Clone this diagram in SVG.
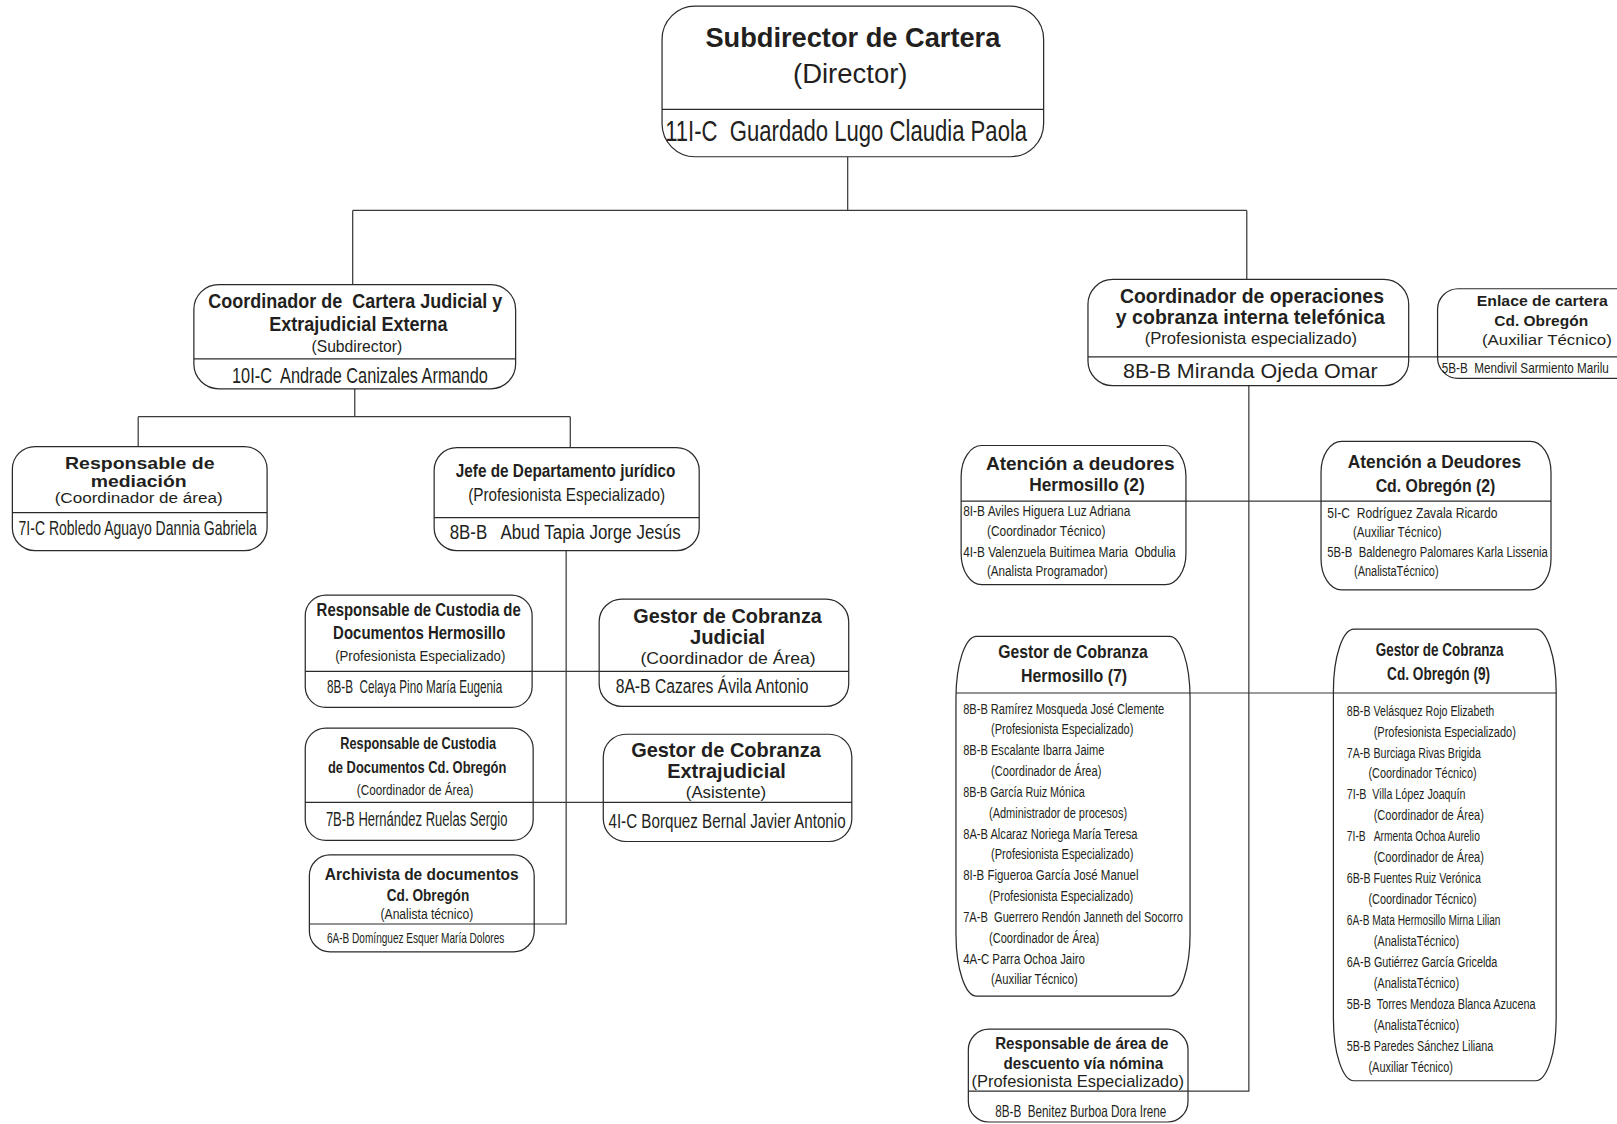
<svg xmlns="http://www.w3.org/2000/svg" width="1617" height="1124" viewBox="0 0 1617 1124">
<style>
.bx{fill:#fff;stroke:#2a2a2a;stroke-width:1.2}
.dv{stroke:#2a2a2a;stroke-width:1.2}
.cn{stroke:#3a3a3a;stroke-width:1.2;fill:none}
text{font-family:"Liberation Sans",Arial,sans-serif;fill:#231f20;white-space:pre}
.b{font-weight:bold}
</style>
<rect width="1617" height="1124" fill="#fff"/>
<g transform="scale(1.03125)">
<g id="connectors" class="cn">
<path d="M822 152V204M342 204H1209M342 204V276M1209 204V271"/>
<path d="M344 377V404M134 404H553M134 404V433M553 404V434"/>
<path d="M549 534V896H517M515 651H581M516 778H585"/>
<path d="M1211 374V1058H1152M1150 486H1281M1154 672H1293M1366 346H1394"/>
</g>
<g id="n-director">
<rect class="bx" x="642" y="6" width="370" height="146" rx="32" ry="32"/>
<line class="dv" x1="642" y1="106" x2="1012" y2="106"/>
<text class="b" x="684" y="46" font-size="27" textLength="286" lengthAdjust="spacingAndGlyphs">Subdirector de Cartera</text>
<text x="769" y="80" font-size="26" textLength="111" lengthAdjust="spacingAndGlyphs">(Director)</text>
<text x="645" y="137" font-size="29" textLength="351" lengthAdjust="spacingAndGlyphs">11I-C  Guardado Lugo Claudia Paola</text>
</g>
<g id="n-coord-judicial">
<rect class="bx" x="188" y="276" width="312" height="101" rx="24" ry="24"/>
<line class="dv" x1="188" y1="348" x2="500" y2="348"/>
<text class="b" x="202" y="299" font-size="19" textLength="285" lengthAdjust="spacingAndGlyphs">Coordinador de  Cartera Judicial y</text>
<text class="b" x="261" y="321" font-size="19" textLength="173" lengthAdjust="spacingAndGlyphs">Extrajudicial Externa</text>
<text x="302" y="341" font-size="16" textLength="88" lengthAdjust="spacingAndGlyphs">(Subdirector)</text>
<text x="225" y="371" font-size="22" textLength="248" lengthAdjust="spacingAndGlyphs">10I-C  Andrade Canizales Armando</text>
</g>
<g id="n-mediacion">
<rect class="bx" x="12" y="433" width="247" height="101" rx="22" ry="22"/>
<line class="dv" x1="12" y1="497" x2="259" y2="497"/>
<text class="b" x="63" y="455" font-size="16" textLength="145" lengthAdjust="spacingAndGlyphs">Responsable de</text>
<text class="b" x="88" y="472" font-size="16" textLength="93" lengthAdjust="spacingAndGlyphs">mediación</text>
<text x="53" y="488" font-size="15" textLength="163" lengthAdjust="spacingAndGlyphs">(Coordinador de área)</text>
<text x="18" y="519" font-size="19" textLength="231" lengthAdjust="spacingAndGlyphs">7I-C Robledo Aguayo Dannia Gabriela</text>
</g>
<g id="n-jefe-juridico">
<rect class="bx" x="421" y="434" width="257" height="100" rx="22" ry="22"/>
<line class="dv" x1="421" y1="502" x2="678" y2="502"/>
<text class="b" x="442" y="463" font-size="18" textLength="213" lengthAdjust="spacingAndGlyphs">Jefe de Departamento jurídico</text>
<text x="454" y="486" font-size="17" textLength="191" lengthAdjust="spacingAndGlyphs">(Profesionista Especializado)</text>
<text x="436" y="523" font-size="20" textLength="224" lengthAdjust="spacingAndGlyphs">8B-B   Abud Tapia Jorge Jesús</text>
</g>
<g id="n-custodia-hermosillo">
<rect class="bx" x="296" y="577" width="220" height="109" rx="20" ry="20"/>
<line class="dv" x1="296" y1="651" x2="516" y2="651"/>
<text class="b" x="307" y="597" font-size="17" textLength="198" lengthAdjust="spacingAndGlyphs">Responsable de Custodia de</text>
<text class="b" x="323" y="620" font-size="17" textLength="167" lengthAdjust="spacingAndGlyphs">Documentos Hermosillo</text>
<text x="325" y="641" font-size="15" textLength="165" lengthAdjust="spacingAndGlyphs">(Profesionista Especializado)</text>
<text x="317" y="672" font-size="17" textLength="170" lengthAdjust="spacingAndGlyphs">8B-B  Celaya Pino María Eugenia</text>
</g>
<g id="n-gestor-judicial">
<rect class="bx" x="581" y="581" width="242" height="104" rx="22" ry="22"/>
<line class="dv" x1="581" y1="651" x2="823" y2="651"/>
<text class="b" x="614" y="604" font-size="19" textLength="183" lengthAdjust="spacingAndGlyphs">Gestor de Cobranza</text>
<text class="b" x="669" y="624" font-size="19" textLength="73" lengthAdjust="spacingAndGlyphs">Judicial</text>
<text x="621" y="644" font-size="16" textLength="170" lengthAdjust="spacingAndGlyphs">(Coordinador de Área)</text>
<text x="597" y="672" font-size="20" textLength="187" lengthAdjust="spacingAndGlyphs">8A-B Cazares Ávila Antonio</text>
</g>
<g id="n-custodia-obregon">
<rect class="bx" x="296" y="706" width="221" height="109" rx="20" ry="20"/>
<line class="dv" x1="296" y1="778" x2="517" y2="778"/>
<text class="b" x="330" y="726" font-size="16" textLength="151" lengthAdjust="spacingAndGlyphs">Responsable de Custodia</text>
<text class="b" x="318" y="750" font-size="16" textLength="173" lengthAdjust="spacingAndGlyphs">de Documentos Cd. Obregón</text>
<text x="346" y="771" font-size="14" textLength="113" lengthAdjust="spacingAndGlyphs">(Coordinador de Área)</text>
<text x="316" y="801" font-size="20" textLength="176" lengthAdjust="spacingAndGlyphs">7B-B Hernández Ruelas Sergio</text>
</g>
<g id="n-gestor-extrajudicial">
<rect class="bx" x="585" y="712" width="241" height="104" rx="22" ry="22"/>
<line class="dv" x1="585" y1="778" x2="826" y2="778"/>
<text class="b" x="612" y="734" font-size="19" textLength="184" lengthAdjust="spacingAndGlyphs">Gestor de Cobranza</text>
<text class="b" x="647" y="754" font-size="19" textLength="115" lengthAdjust="spacingAndGlyphs">Extrajudicial</text>
<text x="665" y="774" font-size="16" textLength="78" lengthAdjust="spacingAndGlyphs">(Asistente)</text>
<text x="590" y="803" font-size="20" textLength="230" lengthAdjust="spacingAndGlyphs">4I-C Borquez Bernal Javier Antonio</text>
</g>
<g id="n-archivista">
<rect class="bx" x="300" y="829" width="218" height="94" rx="20" ry="20"/>
<line class="dv" x1="300" y1="896" x2="518" y2="896"/>
<text class="b" x="315" y="853" font-size="16" textLength="188" lengthAdjust="spacingAndGlyphs">Archivista de documentos</text>
<text class="b" x="375" y="874" font-size="16" textLength="80" lengthAdjust="spacingAndGlyphs">Cd. Obregón</text>
<text x="369" y="891" font-size="14" textLength="90" lengthAdjust="spacingAndGlyphs">(Analista técnico)</text>
<text x="317" y="914" font-size="14.5" textLength="172" lengthAdjust="spacingAndGlyphs">6A-B Domínguez Esquer María Dolores</text>
</g>
<g id="n-coord-operaciones">
<rect class="bx" x="1055" y="271" width="311" height="103" rx="24" ry="24"/>
<line class="dv" x1="1055" y1="346" x2="1366" y2="346"/>
<text class="b" x="1086" y="294" font-size="19" textLength="256" lengthAdjust="spacingAndGlyphs">Coordinador de operaciones</text>
<text class="b" x="1082" y="314" font-size="19" textLength="261" lengthAdjust="spacingAndGlyphs">y cobranza interna telefónica</text>
<text x="1110" y="334" font-size="16" textLength="206" lengthAdjust="spacingAndGlyphs">(Profesionista especializado)</text>
<text x="1089" y="367" font-size="19" textLength="247" lengthAdjust="spacingAndGlyphs">8B-B Miranda Ojeda Omar</text>
</g>
<g id="n-enlace-obregon">
<rect class="bx" x="1394" y="280" width="230" height="87" rx="20" ry="20"/>
<line class="dv" x1="1394" y1="346" x2="1624" y2="346"/>
<text class="b" x="1432" y="297" font-size="15" textLength="127" lengthAdjust="spacingAndGlyphs">Enlace de cartera</text>
<text class="b" x="1449" y="316" font-size="15" textLength="91" lengthAdjust="spacingAndGlyphs">Cd. Obregón</text>
<text x="1437" y="335" font-size="15" textLength="126" lengthAdjust="spacingAndGlyphs">(Auxiliar Técnico)</text>
<text x="1398" y="362" font-size="14" textLength="162" lengthAdjust="spacingAndGlyphs">5B-B  Mendivil Sarmiento Marilu</text>
</g>
<g id="n-atencion-hermosillo">
<rect class="bx" x="932" y="432" width="218" height="135" rx="20" ry="30"/>
<line class="dv" x1="932" y1="486" x2="1150" y2="486"/>
<text class="b" x="956" y="456" font-size="17" textLength="183" lengthAdjust="spacingAndGlyphs">Atención a deudores</text>
<text class="b" x="998" y="476" font-size="17" textLength="112" lengthAdjust="spacingAndGlyphs">Hermosillo (2)</text>
<text x="934" y="500" font-size="14" textLength="162" lengthAdjust="spacingAndGlyphs">8I-B Aviles Higuera Luz Adriana</text>
<text x="957" y="520" font-size="14" textLength="115" lengthAdjust="spacingAndGlyphs">(Coordinador Técnico)</text>
<text x="934" y="540" font-size="14" textLength="206" lengthAdjust="spacingAndGlyphs">4I-B Valenzuela Buitimea Maria  Obdulia</text>
<text x="957" y="559" font-size="14" textLength="117" lengthAdjust="spacingAndGlyphs">(Analista Programador)</text>
</g>
<g id="n-atencion-obregon">
<rect class="bx" x="1281" y="428" width="223" height="144" rx="20" ry="30"/>
<line class="dv" x1="1281" y1="486" x2="1504" y2="486"/>
<text class="b" x="1307" y="454" font-size="17" textLength="168" lengthAdjust="spacingAndGlyphs">Atención a Deudores</text>
<text class="b" x="1334" y="477" font-size="17" textLength="116" lengthAdjust="spacingAndGlyphs">Cd. Obregón (2)</text>
<text x="1287" y="502" font-size="14" textLength="165" lengthAdjust="spacingAndGlyphs">5I-C  Rodríguez Zavala Ricardo</text>
<text x="1312" y="521" font-size="14" textLength="86" lengthAdjust="spacingAndGlyphs">(Auxiliar Técnico)</text>
<text x="1287" y="540" font-size="14" textLength="214" lengthAdjust="spacingAndGlyphs">5B-B  Baldenegro Palomares Karla Lissenia</text>
<text x="1313" y="559" font-size="14" textLength="82" lengthAdjust="spacingAndGlyphs">(AnalistaTécnico)</text>
</g>
<g id="n-gestor-hermosillo">
<rect class="bx" x="927" y="617" width="227" height="349" rx="20" ry="60"/>
<line class="dv" x1="927" y1="672" x2="1154" y2="672"/>
<text class="b" x="968" y="638" font-size="17" textLength="145" lengthAdjust="spacingAndGlyphs">Gestor de Cobranza</text>
<text class="b" x="990" y="661" font-size="17" textLength="103" lengthAdjust="spacingAndGlyphs">Hermosillo (7)</text>
<g font-size="14">
<text x="934" y="692" textLength="195" lengthAdjust="spacingAndGlyphs">8B-B Ramírez Mosqueda José Clemente</text>
<text x="961" y="712.2" textLength="138" lengthAdjust="spacingAndGlyphs">(Profesionista Especializado)</text>
<text x="934" y="732.4" textLength="137" lengthAdjust="spacingAndGlyphs">8B-B Escalante Ibarra Jaime</text>
<text x="961" y="752.6" textLength="107" lengthAdjust="spacingAndGlyphs">(Coordinador de Área)</text>
<text x="934" y="772.8" textLength="118" lengthAdjust="spacingAndGlyphs">8B-B García Ruiz Mónica</text>
<text x="959" y="793" textLength="134" lengthAdjust="spacingAndGlyphs">(Administrador de procesos)</text>
<text x="934" y="813.2" textLength="169" lengthAdjust="spacingAndGlyphs">8A-B Alcaraz Noriega María Teresa</text>
<text x="961" y="833.4" textLength="138" lengthAdjust="spacingAndGlyphs">(Profesionista Especializado)</text>
<text x="934" y="853.6" textLength="170" lengthAdjust="spacingAndGlyphs">8I-B Figueroa García José Manuel</text>
<text x="959" y="873.8" textLength="140" lengthAdjust="spacingAndGlyphs">(Profesionista Especializado)</text>
<text x="934" y="894" textLength="213" lengthAdjust="spacingAndGlyphs">7A-B  Guerrero Rendón Janneth del Socorro</text>
<text x="959" y="914.2" textLength="107" lengthAdjust="spacingAndGlyphs">(Coordinador de Área)</text>
<text x="934" y="934.4" textLength="118" lengthAdjust="spacingAndGlyphs">4A-C Parra Ochoa Jairo</text>
<text x="961" y="954.6" textLength="84" lengthAdjust="spacingAndGlyphs">(Auxiliar Técnico)</text>
</g>
</g>
<g id="n-gestor-obregon">
<rect class="bx" x="1293" y="610" width="216" height="438" rx="20" ry="60"/>
<line class="dv" x1="1293" y1="672" x2="1509" y2="672"/>
<text class="b" x="1334" y="636" font-size="17" textLength="124" lengthAdjust="spacingAndGlyphs">Gestor de Cobranza</text>
<text class="b" x="1345" y="659" font-size="17" textLength="100" lengthAdjust="spacingAndGlyphs">Cd. Obregón (9)</text>
<g font-size="14">
<text x="1306" y="694" textLength="143" lengthAdjust="spacingAndGlyphs">8B-B Velásquez Rojo Elizabeth</text>
<text x="1332" y="714.3" textLength="138" lengthAdjust="spacingAndGlyphs">(Profesionista Especializado)</text>
<text x="1306" y="734.6" textLength="130" lengthAdjust="spacingAndGlyphs">7A-B Burciaga Rivas Brigida</text>
<text x="1327" y="754.9" textLength="105" lengthAdjust="spacingAndGlyphs">(Coordinador Técnico)</text>
<text x="1306" y="775.2" textLength="115" lengthAdjust="spacingAndGlyphs">7I-B  Villa López Joaquín</text>
<text x="1332" y="795.5" textLength="107" lengthAdjust="spacingAndGlyphs">(Coordinador de Área)</text>
<text x="1306" y="815.8" textLength="129" lengthAdjust="spacingAndGlyphs">7I-B   Armenta Ochoa Aurelio</text>
<text x="1332" y="836.1" textLength="107" lengthAdjust="spacingAndGlyphs">(Coordinador de Área)</text>
<text x="1306" y="856.4" textLength="130" lengthAdjust="spacingAndGlyphs">6B-B Fuentes Ruiz Verónica</text>
<text x="1327" y="876.7" textLength="105" lengthAdjust="spacingAndGlyphs">(Coordinador Técnico)</text>
<text x="1306" y="897" textLength="149" lengthAdjust="spacingAndGlyphs">6A-B Mata Hermosillo Mirna Lilian</text>
<text x="1332" y="917.3" textLength="83" lengthAdjust="spacingAndGlyphs">(AnalistaTécnico)</text>
<text x="1306" y="937.6" textLength="146" lengthAdjust="spacingAndGlyphs">6A-B Gutiérrez García Gricelda</text>
<text x="1332" y="957.9" textLength="83" lengthAdjust="spacingAndGlyphs">(AnalistaTécnico)</text>
<text x="1306" y="978.2" textLength="183" lengthAdjust="spacingAndGlyphs">5B-B  Torres Mendoza Blanca Azucena</text>
<text x="1332" y="998.5" textLength="83" lengthAdjust="spacingAndGlyphs">(AnalistaTécnico)</text>
<text x="1306" y="1018.8" textLength="142" lengthAdjust="spacingAndGlyphs">5B-B Paredes Sánchez Liliana</text>
<text x="1327" y="1039.1" textLength="82" lengthAdjust="spacingAndGlyphs">(Auxiliar Técnico)</text>
</g>
</g>
<g id="n-descuento-nomina">
<rect class="bx" x="939" y="998" width="213" height="90" rx="20" ry="20"/>
<line class="dv" x1="939" y1="1058" x2="1152" y2="1058"/>
<text class="b" x="965" y="1017" font-size="16" textLength="168" lengthAdjust="spacingAndGlyphs">Responsable de área de</text>
<text class="b" x="973" y="1037" font-size="16" textLength="155" lengthAdjust="spacingAndGlyphs">descuento vía nómina</text>
<text x="942" y="1054" font-size="16" textLength="206" lengthAdjust="spacingAndGlyphs">(Profesionista Especializado)</text>
<text x="965" y="1083" font-size="16" textLength="166" lengthAdjust="spacingAndGlyphs">8B-B  Benitez Burboa Dora Irene</text>
</g>
</g>
</svg>
